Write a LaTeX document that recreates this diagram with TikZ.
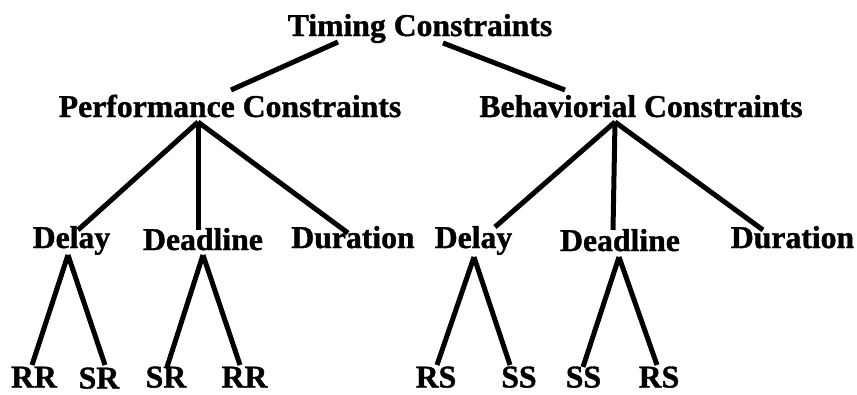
\documentclass[tikz,border=0pt]{standalone}
\usepackage{fontspec}
\setmainfont{Liberation Serif}[BoldFeatures={FakeBold=1.2}]
\begin{document}
\begin{tikzpicture}[x=1pt,y=1pt,
  lbl/.style={anchor=base,inner sep=0pt,font=\fontsize{31.7}{36}\selectfont\bfseries},
  branch/.style={line width=5pt,black}]
\useasboundingbox (0,0) rectangle (857,-394);
% level 0
\node[lbl] (top) at (420,-36) {Timing Constraints};
% level 1
\node[lbl] (perf) at (230,-117) {Performance Constraints};
\node[lbl] (beh) at (641,-117) {Behaviorial Constraints};
% level 2
\node[lbl] (dly1) at (71.5,-248) {Delay};
\node[lbl] (ddl1) at (203,-250) {Deadline};
\node[lbl] (dur1) at (353,-248) {Duration};
\node[lbl] (dly2) at (473.5,-248) {Delay};
\node[lbl] (ddl2) at (620,-251) {Deadline};
\node[lbl] (dur2) at (792.5,-248) {Duration};
% level 3
\node[lbl] (rr1) at (34,-387.5) {RR};
\node[lbl] (sr1) at (99,-388.5) {SR};
\node[lbl] (sr2) at (166,-387.5) {SR};
\node[lbl] (rr2) at (244.5,-387.5) {RR};
\node[lbl] (rs1) at (436,-387.5) {RS};
\node[lbl] (ss1) at (519,-387.5) {SS};
\node[lbl] (ss2) at (583.5,-387.5) {SS};
\node[lbl] (rs2) at (659,-387.5) {RS};
% connectors
\draw[branch] ([shift={(-82,-6)}]top.base) -- ([shift={(1,27)}]perf.base);
\draw[branch] ([shift={(23,-7)}]top.base) -- ([shift={(-76,27)}]beh.base);
\draw[branch] ([shift={(-32,-5)}]perf.base) -- ([shift={(6.5,18)}]dly1.base);
\draw[branch] ([shift={(-32,-5)}]perf.base) -- ([shift={(-5,20)}]ddl1.base);
\draw[branch] ([shift={(-32,-5)}]perf.base) -- ([shift={(-5,15)}]dur1.base);
\draw[branch] ([shift={(-26,-5)}]beh.base) -- ([shift={(21.5,21)}]dly2.base);
\draw[branch] ([shift={(-26,-5)}]beh.base) -- ([shift={(-7,21)}]ddl2.base);
\draw[branch] ([shift={(-26,-5)}]beh.base) -- ([shift={(-29.5,18)}]dur2.base);
\draw[branch] ([shift={(-3.5,-7)}]dly1.base) -- ([shift={(-2,22.5)}]rr1.base);
\draw[branch] ([shift={(-3.5,-7)}]dly1.base) -- ([shift={(6,23.5)}]sr1.base);
\draw[branch] ([shift={(0,-5)}]ddl1.base) -- ([shift={(1,20.5)}]sr2.base);
\draw[branch] ([shift={(0,-5)}]ddl1.base) -- ([shift={(-4.5,22.5)}]rr2.base);
\draw[branch] ([shift={(0.5,-9)}]dly2.base) -- ([shift={(1,22.5)}]rs1.base);
\draw[branch] ([shift={(0.5,-9)}]dly2.base) -- ([shift={(-9,22.5)}]ss1.base);
\draw[branch] ([shift={(-1,-6)}]ddl2.base) -- ([shift={(-0.5,20.5)}]ss2.base);
\draw[branch] ([shift={(-1,-6)}]ddl2.base) -- ([shift={(-2,22.5)}]rs2.base);
\end{tikzpicture}
\end{document}
